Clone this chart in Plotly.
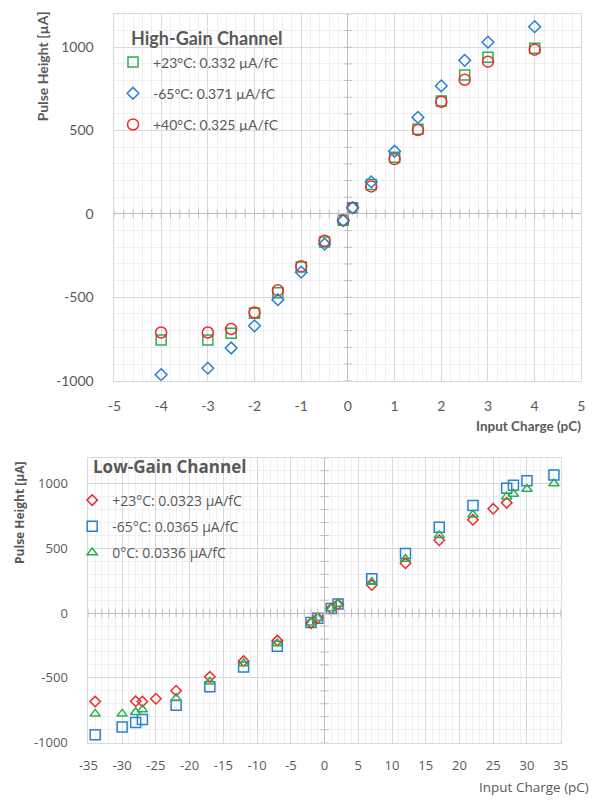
import numpy as np
import plotly.graph_objects as go

# ---------------- High-Gain channel data ----------------
hg_x = [-4, -3, -2.5, -2, -1.5, -1, -0.5, -0.1, 0.1, 0.5, 1, 1.5, 2, 2.5, 3, 4]
hg_p23 = [-756, -756, -716, -595, -472, -318, -169, -38, 37, 177, 340, 508, 677, 833, 940, 993]
hg_m65 = [-964, -925, -804, -671, -514, -349, -181, -40, 37, 192, 376, 579, 768, 921, 1030, 1123]
hg_p40 = [-711, -711, -690, -591, -458, -314, -161, -38, 37, 165, 329, 503, 673, 805, 913, 985]

# ---------------- Low-Gain channel data ----------------
lg_x_p23 = [-34, -28, -27, -25, -22, -17, -12, -7, -2, -1, 1, 2, 7, 12, 17, 22, 25, 27]
lg_p23 = [-683, -681, -683, -661, -599, -492, -370, -212, -77, -38, 36, 69, 217, 385, 563, 721, 806, 852]
lg_x_m65 = [-34, -30, -28, -27, -22, -17, -12, -7, -2, -1, 1, 2, 7, 12, 17, 22, 27, 28, 30, 34]
lg_m65 = [-939, -880, -844, -821, -712, -569, -416, -255, -73, -40, 36, 70, 265, 461, 663, 831, 964, 989, 1022, 1068]
lg_x_0 = [-34, -30, -28, -27, -22, -17, -12, -7, -2, -1, 1, 2, 7, 12, 17, 22, 27, 28, 30, 34]
lg_0 = [-778, -778, -765, -745, -658, -530, -388, -235, -75, -38, 36, 70, 240, 418, 601, 760, 900, 920, 959, 1002]

hg_names = ["+23°C: 0.332 µA/fC", "-65°C: 0.371 µA/fC", "+40°C: 0.325 µA/fC"]
lg_names = ["+23°C: 0.0323 µA/fC", "-65°C: 0.0365 µA/fC", "0°C: 0.0336 µA/fC"]

# tick labels (plain hyphen minus, as in the original)
hg_xticks = [-5, -4, -3, -2, -1, 0, 1, 2, 3, 4, 5]
hg_xtext = ["-5", "-4", "-3", "-2", "-1", "0", "1", "2", "3", "4", "5"]
lg_xticks = [-35, -30, -25, -20, -15, -10, -5, 0, 5, 10, 15, 20, 25, 30, 35]
lg_xtext = ["-35", "-30", "-25", "-20", "-15", "-10", "-5", "0", "5", "10", "15", "20", "25", "30", "35"]
yticks = [-1000, -500, 0, 500, 1000]
ytext = ["-1000", "-500", "0", "500", "1000"]

GREEN = "#2BAE4C"
BLUE = "#2A80D0"
RED = "#F02A2F"
TXT = "#595959"
GRID = "#D9D9D9"
MINOR = "#EFEFEF"
ZERO = "#BFBFBF"

FONT_TOP = "Lato"
FONT_BOT = "Open Sans"

fig = go.Figure()

# top chart traces (draw order: green, red, blue; legend order: green, blue, red)
fig.add_trace(go.Scatter(x=hg_x, y=hg_p23, mode="markers", name=hg_names[0],
                         marker=dict(symbol="square-open", size=10, color=GREEN, line=dict(width=1.5, color=GREEN)),
                         xaxis="x", yaxis="y", legend="legend", legendgroup="a", legendrank=1))
fig.add_trace(go.Scatter(x=hg_x, y=hg_p40, mode="markers", name=hg_names[2],
                         marker=dict(symbol="circle-open", size=11, color=RED, line=dict(width=1.5, color=RED)),
                         xaxis="x", yaxis="y", legend="legend", legendgroup="c", legendrank=3))
fig.add_trace(go.Scatter(x=hg_x, y=hg_m65, mode="markers", name=hg_names[1],
                         marker=dict(symbol="diamond-open", size=9, color=BLUE, line=dict(width=1.5, color=BLUE)),
                         xaxis="x", yaxis="y", legend="legend", legendgroup="b", legendrank=2))

# bottom chart traces (draw order: blue, red, green; legend order: red, blue, green)
fig.add_trace(go.Scatter(x=lg_x_m65, y=lg_m65, mode="markers", name=lg_names[1],
                         marker=dict(symbol="square-open", size=10, color=BLUE, line=dict(width=1.5, color=BLUE)),
                         xaxis="x2", yaxis="y2", legend="legend2", legendgroup="e", legendrank=2))
fig.add_trace(go.Scatter(x=lg_x_p23, y=lg_p23, mode="markers", name=lg_names[0],
                         marker=dict(symbol="diamond-open", size=8, color=RED, line=dict(width=1.5, color=RED)),
                         xaxis="x2", yaxis="y2", legend="legend2", legendgroup="d", legendrank=1))
fig.add_trace(go.Scatter(x=lg_x_0, y=lg_0, mode="markers", name=lg_names[2],
                         marker=dict(symbol="triangle-up-open", size=9, color=GREEN, line=dict(width=1.5, color=GREEN)),
                         xaxis="x2", yaxis="y2", legend="legend2", legendgroup="f", legendrank=3))

# minor tick marks on the zero-crossing axes
def zero_ticks(xa, ya, xr, xstep, yr, ystep):
    xs = np.arange(xr[0], xr[1] + xstep / 2, xstep)
    ys = np.arange(yr[0], yr[1] + ystep / 2, ystep)
    fig.add_trace(go.Scatter(x=xs, y=np.zeros_like(xs), mode="markers", showlegend=False, hoverinfo="skip",
                             marker=dict(symbol="line-ns", size=6, line=dict(width=1, color=ZERO)),
                             xaxis=xa, yaxis=ya))
    fig.add_trace(go.Scatter(x=np.zeros_like(ys), y=ys, mode="markers", showlegend=False, hoverinfo="skip",
                             marker=dict(symbol="line-ew", size=6, line=dict(width=1, color=ZERO)),
                             xaxis=xa, yaxis=ya))

zero_ticks("x", "y", (-5, 5), 0.2, (-1000, 1200), 100)
zero_ticks("x2", "y2", (-35, 35), 1, (-1000, 1200), 100)

W, H = 601, 805
def px(x):
    return x / W
def py(y):
    return 1 - y / H

def axis_common(font, size):
    return dict(showgrid=True, gridcolor=GRID, gridwidth=1,
                zeroline=True, zerolinecolor=ZERO, zerolinewidth=1,
                showline=True, linecolor=GRID, linewidth=1, mirror=True,
                ticks="", tickfont=dict(family=font, size=size, color=TXT),
                fixedrange=True)

fig.update_layout(
    width=W, height=H, margin=dict(l=0, r=0, t=0, b=0),
    paper_bgcolor="white", plot_bgcolor="white",
    xaxis=dict(domain=[px(107.5), px(588)], range=[-5, 5], tickvals=hg_xticks, ticktext=hg_xtext, anchor="y",
               minor=dict(dtick=0.2, tick0=0, showgrid=True, gridcolor=MINOR), ticklabelstandoff=13,
               **axis_common(FONT_TOP, 14)),
    yaxis=dict(domain=[py(385), py(14)], range=[-1000, 1200], tickvals=yticks, ticktext=ytext, anchor="x",
               minor=dict(dtick=100, tick0=0, showgrid=True, gridcolor=MINOR), ticklabelstandoff=17,
               **axis_common(FONT_TOP, 14)),
    xaxis2=dict(domain=[px(80.7), px(566.7)], range=[-35, 35], tickvals=lg_xticks, ticktext=lg_xtext, anchor="y2",
                minor=dict(dtick=1, tick0=0, showgrid=True, gridcolor=MINOR), ticklabelstandoff=11,
                **axis_common(FONT_BOT, 13)),
    yaxis2=dict(domain=[py(751), py(463)], range=[-1000, 1200], tickvals=yticks, ticktext=ytext, anchor="x2",
                minor=dict(dtick=100, tick0=0, showgrid=True, gridcolor=MINOR), ticklabelstandoff=17,
                **axis_common(FONT_BOT, 13)),
    legend=dict(x=px(106), y=py(47), xanchor="left", yanchor="top", bgcolor="rgba(0,0,0,0)",
                font=dict(family=FONT_TOP, size=14, color=TXT), traceorder="grouped",
                tracegroupgap=10, itemclick=False),
    legend2=dict(x=px(64), y=py(490), xanchor="left", yanchor="top", bgcolor="rgba(0,0,0,0)",
                 font=dict(family=FONT_BOT, size=14, color=TXT), traceorder="grouped",
                 tracegroupgap=5, itemclick=False),
    annotations=[
        dict(text="<b>High-Gain Channel</b>", x=px(122), y=py(38), xref="paper", yref="paper",
             xanchor="left", yanchor="middle", showarrow=False,
             font=dict(family=FONT_TOP, size=18, color=TXT)),
        dict(text="<b>Low-Gain Channel</b>", x=px(83), y=py(472), xref="paper", yref="paper",
             xanchor="left", yanchor="middle", showarrow=False,
             font=dict(family=FONT_BOT, size=17, color=TXT)),
        dict(text="<b>Pulse Height [µA]</b>", x=px(33), y=py(67), xref="paper", yref="paper",
             xanchor="center", yanchor="middle", showarrow=False, textangle=-90,
             font=dict(family=FONT_TOP, size=14, color=TXT)),
        dict(text="<b>Pulse Height [µA]</b>", x=px(9), y=py(519), xref="paper", yref="paper",
             xanchor="center", yanchor="middle", showarrow=False, textangle=-90,
             font=dict(family=FONT_BOT, size=12, color=TXT)),
        dict(text="<b>Input Charge (pC)</b>", x=px(590), y=py(431), xref="paper", yref="paper",
             xanchor="right", yanchor="middle", showarrow=False,
             font=dict(family=FONT_TOP, size=13.5, color=TXT)),
        dict(text="Input Charge (pC)", x=px(598), y=py(796), xref="paper", yref="paper",
             xanchor="right", yanchor="middle", showarrow=False,
             font=dict(family=FONT_BOT, size=13.5, color=TXT)),
    ],
)

fig.write_html("out.html")
